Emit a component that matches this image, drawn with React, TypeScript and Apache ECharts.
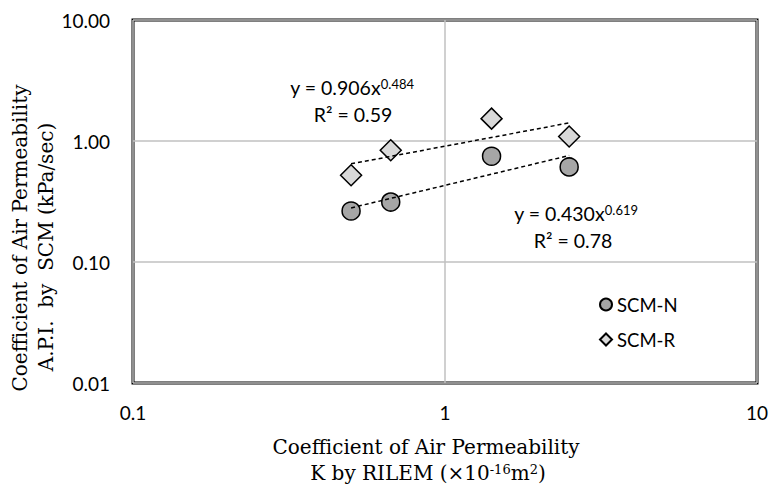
import React, { useEffect, useRef } from "react";
import * as echarts from "echarts";

// K by RILEM (x axis)
const kValues = [0.5, 0.67, 1.41, 2.5];
// A.P.I. by SCM (y axis)
const scmN = [0.264, 0.313, 0.748, 0.61];
const scmR = [0.521, 0.838, 1.53, 1.09];
// Power trendlines y = a x^b (as labelled in the chart)
const trendNCoef = [0.43, 0.619];
const trendRCoef = [0.906, 0.484];
const xTickLabels = ["0.1", "1", "10"];
const yTickLabels = ["0.01", "0.10", "1.00", "10.00"];
const seriesNames = ["SCM-N", "SCM-R"];

const SANS = "Lato";
const SERIF = "DejaVu Serif";

export default function App() {
  const ref = useRef<HTMLDivElement>(null);
  useEffect(() => {
    document.body.style.margin = "0";
    const chart = echarts.init(ref.current!, undefined, { renderer: "svg" });
    const xMin = kValues[0];
    const xMax = kValues[kValues.length - 1];
    const trend = (c: number[]) => [
      [xMin, c[0] * Math.pow(xMin, c[1])],
      [xMax, c[0] * Math.pow(xMax, c[1])],
    ];
    const dash = { color: "#000", width: 1.5, type: [4, 3] as any };
    const eqRich = {
      n: { fontFamily: SANS, fontSize: 19.5, fill: "#000", verticalAlign: "bottom" },
      s: { fontFamily: SANS, fontSize: 13, fill: "#000", verticalAlign: "top" },
    };
    chart.setOption({
      animation: false,
      backgroundColor: "#fff",
      grid: {
        left: 133,
        right: 15,
        top: 20,
        bottom: 110,
        show: true,
        borderColor: "#000",
        borderWidth: 3,
        containLabel: false,
      },
      xAxis: {
        type: "log",
        logBase: 10,
        min: 0.1,
        max: 10,
        interval: 1,
        axisLine: { show: false },
        axisTick: { show: false },
        splitLine: { show: true, lineStyle: { color: "#c0c0c0", width: 1.5 } },
        axisLabel: {
          margin: 20,
          fontFamily: SANS,
          fontSize: 19,
          color: "#000",
          formatter: (v: number) => {
            const i = Math.round(Math.log10(v)) + 1;
            return xTickLabels[i] ?? "";
          },
        },
      },
      yAxis: {
        type: "log",
        logBase: 10,
        min: 0.01,
        max: 10,
        interval: 1,
        axisLine: { show: false },
        axisTick: { show: false },
        splitLine: { show: true, lineStyle: { color: "#c0c0c0", width: 1.5 } },
        axisLabel: {
          margin: 23,
          fontFamily: SANS,
          fontSize: 19,
          color: "#000",
          formatter: (v: number) => {
            const i = Math.round(Math.log10(v)) + 2;
            return yTickLabels[i] ?? "";
          },
        },
      },
      legend: {
        orient: "vertical",
        left: 594,
        top: 290,
        itemWidth: 12,
        itemHeight: 12,
        itemGap: 16,
        data: seriesNames,
        textStyle: { fontFamily: SANS, fontSize: 18.5, color: "#000" },
      },
      series: [
        {
          name: seriesNames[0],
          type: "scatter",
          symbol: "circle",
          symbolSize: 18,
          data: kValues.map((x, i) => [x, scmN[i]]),
          itemStyle: { color: "#a6a6a6", borderColor: "#000", borderWidth: 1.5, opacity: 1 },
        },
        {
          name: seriesNames[1],
          type: "scatter",
          symbol: "diamond",
          symbolSize: 21,
          data: kValues.map((x, i) => [x, scmR[i]]),
          itemStyle: { color: "#d9d9d9", borderColor: "#000", borderWidth: 1.5, opacity: 1 },
        },
        {
          name: "trendN",
          type: "line",
          data: trend(trendNCoef),
          symbol: "none",
          lineStyle: dash,
          z: 3,
        },
        {
          name: "trendR",
          type: "line",
          data: trend(trendRCoef),
          symbol: "none",
          lineStyle: dash,
          z: 3,
        },
      ],
      graphic: [
        {
          type: "text",
          x: 352,
          y: 87,
          style: {
            text: "{n|y = " + trendRCoef[0].toFixed(3) + "x}{s|" + trendRCoef[1].toFixed(3) + "}",
            align: "center",
            verticalAlign: "middle",
            rich: eqRich,
          },
        },
        {
          type: "text",
          x: 353,
          y: 114,
          style: {
            text: "R² = 0.59",
            align: "center",
            verticalAlign: "middle",
            fontFamily: SANS,
            fontSize: 19.5,
            fill: "#000",
          },
        },
        {
          type: "text",
          x: 576,
          y: 213,
          style: {
            text: "{n|y = " + trendNCoef[0].toFixed(3) + "x}{s|" + trendNCoef[1].toFixed(3) + "}",
            align: "center",
            verticalAlign: "middle",
            rich: eqRich,
          },
        },
        {
          type: "text",
          x: 573,
          y: 240,
          style: {
            text: "R² = 0.78",
            align: "center",
            verticalAlign: "middle",
            fontFamily: SANS,
            fontSize: 19.5,
            fill: "#000",
          },
        },
        {
          type: "text",
          x: 426,
          y: 447,
          style: {
            text: "Coefficient of Air Permeability",
            align: "center",
            verticalAlign: "middle",
            fontFamily: SERIF,
            fontSize: 20,
            fill: "#000",
          },
        },
        {
          type: "text",
          x: 428,
          y: 473,
          style: {
            text: "{n|K by RILEM (×10}{s|-16}{n|m}{s|2}{n|)}",
            align: "center",
            verticalAlign: "middle",
            rich: {
              n: { fontFamily: SERIF, fontSize: 20, fill: "#000", verticalAlign: "bottom" },
              s: { fontFamily: SERIF, fontSize: 13, fill: "#000", verticalAlign: "top" },
            },
          },
        },
        {
          type: "text",
          x: 20,
          y: 238,
          rotation: Math.PI / 2,
          style: {
            text: "Coefficient of Air Permeability",
            align: "center",
            verticalAlign: "middle",
            fontFamily: SERIF,
            fontSize: 20,
            fill: "#000",
          },
        },
        {
          type: "text",
          x: 46,
          y: 247,
          rotation: Math.PI / 2,
          style: {
            text: "A.P.I.  by  SCM (kPa/sec)",
            align: "center",
            verticalAlign: "middle",
            fontFamily: SERIF,
            fontSize: 20,
            fill: "#000",
          },
        },
      ],
    });
    return () => chart.dispose();
  }, []);
  return <div ref={ref} style={{ width: 772, height: 493 }} />;
}
